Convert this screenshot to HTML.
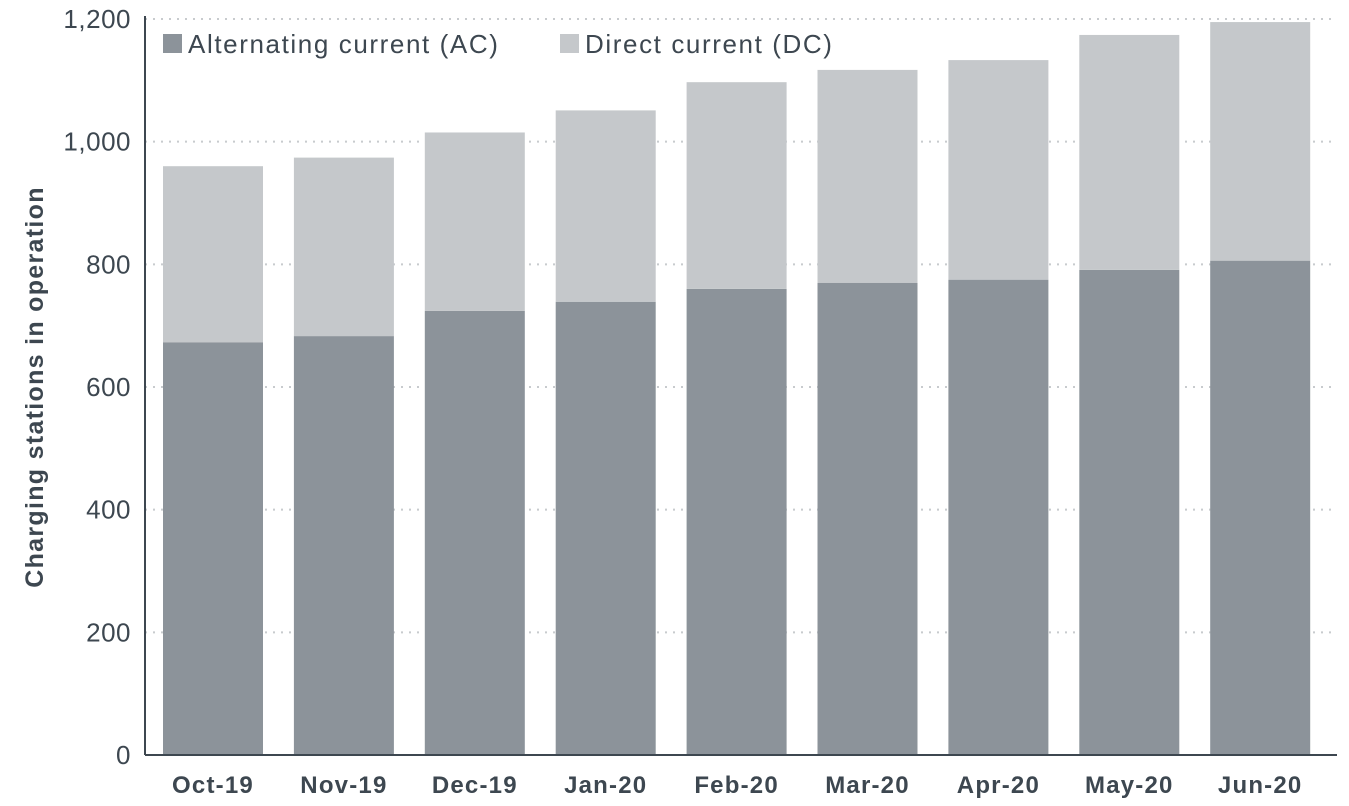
<!DOCTYPE html>
<html><head><meta charset="utf-8"><style>
body{margin:0;background:#fff;font-family:"Liberation Sans",sans-serif;}
svg{display:block}
</style></head><body>
<svg id="chart" width="1349" height="806" xmlns="http://www.w3.org/2000/svg">
<g id="grid"></g>
<g id="bars"></g>
<g id="axes"></g>
<text transform="translate(43,387) rotate(-90)" text-anchor="middle" font-size="25" font-weight="bold" letter-spacing="1.3" fill="#3d4750">Charging stations in operation</text>
<g>
<rect x="163" y="34" width="19" height="19" fill="#8c939a"/>
<text x="188" y="53" font-size="26" letter-spacing="1.6" fill="#3d4750">Alternating current (AC)</text>
<rect x="560" y="34" width="19" height="19" fill="#c5c8cb"/>
<text x="585" y="53" font-size="26" letter-spacing="1.6" fill="#3d4750">Direct current (DC)</text>
</g>
</svg>
<script>
const categories=["Oct-19","Nov-19","Dec-19","Jan-20","Feb-20","Mar-20","Apr-20","May-20","Jun-20"];
const acValues=[673,683,724,739,760,770,775,791,806];
const totalValues=[960,974,1015,1051,1097,1117,1133,1174,1195];
const yTicks=[0,200,400,600,800,1000,1200];
const tickLabels=["0","200","400","600","800","1,000","1,200"];
const NS="http://www.w3.org/2000/svg";
const x0=145,x1=1337,yBase=755,yTop=19,yMax=1200;
const firstCenter=213,pitch=130.9,barW=100;
function y(v){return yBase-(v/yMax)*(yBase-yTop);}
function cx(i){return firstCenter+pitch*i;}
function bx(i){return cx(i)-barW/2;}
function mk(p,t,a){const e=document.createElementNS(NS,t);for(const k in a)e.setAttribute(k,a[k]);p.appendChild(e);return e;}
const grid=document.getElementById('grid'),bars=document.getElementById('bars'),axes=document.getElementById('axes');
yTicks.forEach((v,i)=>{
 if(v>0){const l=mk(grid,'line',{x1:x0,x2:x1,y1:y(v),y2:y(v),stroke:'#c8cbce','stroke-width':2,'stroke-dasharray':'2 6'});
 
 }
 const t=mk(axes,'text',{x:131,y:y(v)+9,'text-anchor':'end','font-size':26,'letter-spacing':0.5,fill:'#3d4750'});
 t.textContent=tickLabels[i];
 
 
});
categories.forEach((c,i)=>{
 const a=mk(bars,'rect',{x:bx(i),y:y(acValues[i]),width:barW,height:yBase-y(acValues[i]),fill:'#8c939a'});
 
 
 const d=mk(bars,'rect',{x:bx(i),y:y(totalValues[i]),width:barW,height:y(acValues[i])-y(totalValues[i]),fill:'#c5c8cb'});
 
 
 const t=mk(axes,'text',{x:cx(i),y:793,'text-anchor':'middle','font-size':24,'font-weight':'bold','letter-spacing':1.2,fill:'#3d4750'});
 t.textContent=c;
 
 
});
const ya=mk(axes,'line',{x1:x0,x2:x0,y1:yTop-3,y2:yBase,stroke:'#3d4750','stroke-width':2});


const xa=mk(axes,'line',{x1:x0,x2:x1,y1:yBase,y2:yBase,stroke:'#3d4750','stroke-width':2});


</script>
</body></html>
